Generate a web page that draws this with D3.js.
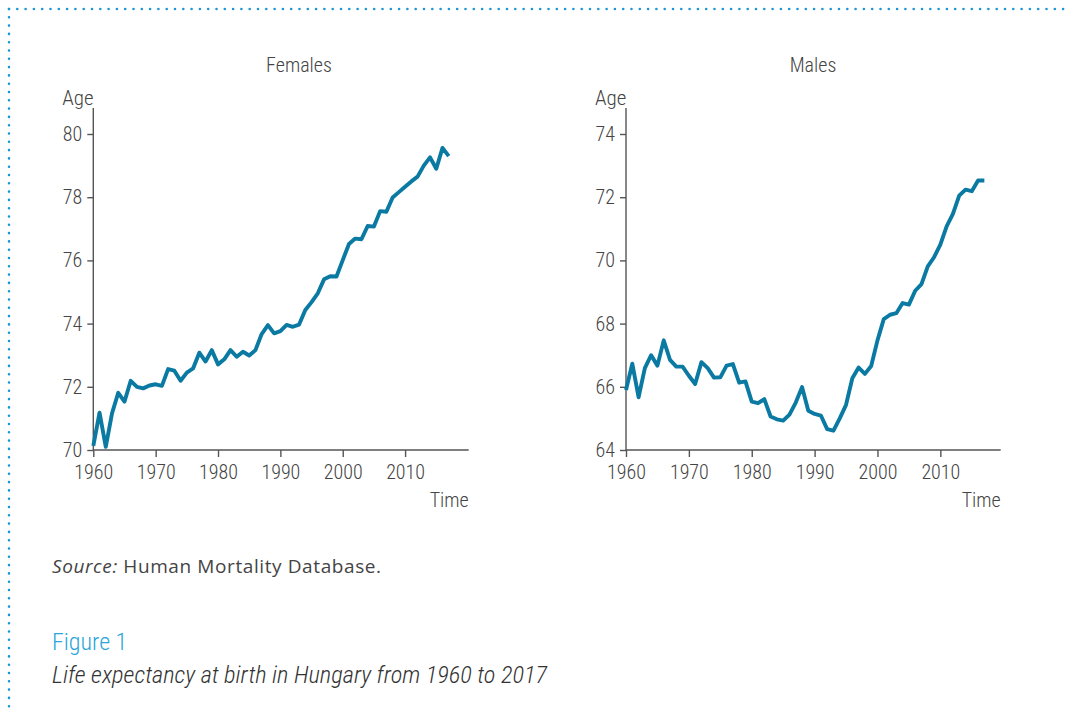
<!DOCTYPE html>
<html>
<head>
<meta charset="utf-8">
<script src="https://cdn.jsdelivr.net/npm/d3@7"></script>
<style>
	body { margin: 0; background: #fff; }
	svg text { fill: #444; }
	.narrow { font-family: "Roboto Condensed", "Liberation Sans Narrow", Roboto, sans-serif; font-weight: 300; }
	.axis path, .axis line { stroke: #555; stroke-width: 1.4; }
</style>
</head>
<body>
<div id="chart"></div>
<script>
// Life expectancy at birth, Hungary
var years = d3.range(1960, 2018);
var females = [
	70.13, 71.18, 70.10, 71.16, 71.81, 71.53, 72.19, 72.00, 71.95, 72.04,
	72.08, 72.03, 72.56, 72.51, 72.19, 72.45, 72.58, 73.08, 72.80, 73.16,
	72.71, 72.87, 73.16, 72.95, 73.11, 72.99, 73.16, 73.67, 73.95, 73.69,
	73.76, 73.96, 73.90, 73.97, 74.43, 74.68, 74.96, 75.40, 75.50, 75.49,
	76.01, 76.52, 76.69, 76.67, 77.09, 77.07, 77.56, 77.54, 77.99, 78.16,
	78.33, 78.50, 78.65, 79.00, 79.26, 78.90, 79.56, 79.30
];
var males = [
	65.90, 66.73, 65.67, 66.59, 67.00, 66.67, 67.47, 66.85, 66.64, 66.64,
	66.35, 66.09, 66.78, 66.59, 66.29, 66.30, 66.67, 66.72, 66.13, 66.17,
	65.53, 65.48, 65.61, 65.06, 64.97, 64.93, 65.12, 65.50, 65.99, 65.24,
	65.14, 65.09, 64.66, 64.61, 65.00, 65.43, 66.27, 66.61, 66.41, 66.66,
	67.47, 68.14, 68.28, 68.33, 68.65, 68.60, 69.04, 69.25, 69.81, 70.10,
	70.50, 71.08, 71.47, 72.05, 72.24, 72.19, 72.53, 72.53
];
var xTicks = [1960, 1970, 1980, 1990, 2000, 2010];
var femaleTicks = [70, 72, 74, 76, 78, 80];
var maleTicks = [64, 66, 68, 70, 72, 74];

var W = 1065, H = 713;
var svg = d3.select("#chart").append("svg")
	.attr("width", W)
	.attr("height", H);

// dotted frame
svg.append("line")
	.attr("x1", 9).attr("y1", 9).attr("x2", W).attr("y2", 9)
	.attr("stroke", "#1a96d4").attr("stroke-width", 2.6)
	.attr("stroke-linecap", "round").attr("stroke-dasharray", "0 8.3");
svg.append("line")
	.attr("x1", 9).attr("y1", 9).attr("x2", 9).attr("y2", H)
	.attr("stroke", "#1a96d4").attr("stroke-width", 2.6)
	.attr("stroke-linecap", "round").attr("stroke-dasharray", "0 8.3");

function panel(opts) {
	var x = d3.scaleLinear().domain([1960, opts.xEnd]).range([opts.left, opts.right]);
	var y = d3.scaleLinear().domain([opts.ticks[0], opts.ticks[0] + 10]).range([450, 134]);
	var yTop = 108;
	var g = svg.append("g");

	// title
	g.append("text").attr("class", "narrow")
		.attr("x", opts.titleX).attr("y", 72)
		.attr("text-anchor", "middle")
		.attr("font-size", 20)
		.text(opts.title);

	// y axis
	var ya = g.append("g").attr("class", "axis narrow")
		.attr("transform", `translate(${opts.left}, 0)`)
		.call(d3.axisLeft(y).tickValues(opts.ticks).tickSize(6).tickPadding(5));
	ya.select(".domain").attr("d", `M-0,${yTop}V450`);
	ya.selectAll("text").attr("font-size", 20).attr("fill", "#444");

	// x axis
	var xa = g.append("g").attr("class", "axis narrow")
		.attr("transform", "translate(0, 450)")
		.call(d3.axisBottom(x).tickValues(xTicks).tickFormat(d3.format("d")).tickSize(7).tickPadding(8));
	xa.select(".domain").attr("d", `M${opts.left},0H${opts.right}`);
	xa.selectAll("text").attr("font-size", 20).attr("fill", "#444");

	g.append("text").attr("class", "narrow")
		.attr("x", opts.left - 31).attr("y", 105)
		.attr("font-size", 21)
		.text("Age");
	g.append("text").attr("class", "narrow")
		.attr("x", opts.right).attr("y", 507)
		.attr("text-anchor", "end")
		.attr("font-size", 20)
		.text("Time");

	var line = d3.line()
		.x((d, i) => x(years[i]))
		.y(d => y(d));
	g.append("path")
		.datum(opts.values)
		.attr("fill", "none")
		.attr("stroke", "#0b7aa3")
		.attr("stroke-width", 3.9)
		.attr("stroke-linejoin", "round")
		.attr("d", line);
}

panel({ title: "Females", titleX: 299, left: 93.3, right: 468.7, xEnd: 2020.2, ticks: femaleTicks, values: females });
panel({ title: "Males", titleX: 813, left: 626, right: 1000.7, xEnd: 2019.6, ticks: maleTicks, values: males });

// source and caption
var src = svg.append("text")
	.attr("x", 52).attr("y", 573)
	.attr("font-family", "'Open Sans', sans-serif")
	.attr("font-size", 19)
	.attr("letter-spacing", 0.6)
	.attr("fill", "#3a3a3a");
src.append("tspan").attr("font-style", "italic").text("Source:");
src.append("tspan").text(" Human Mortality Database.");

svg.append("text").attr("class", "narrow")
	.attr("x", 52).attr("y", 650)
	.attr("font-size", 24)
	.style("fill", "#2aa5da")
	.text("Figure 1");
svg.append("text").attr("class", "narrow")
	.attr("x", 52).attr("y", 683)
	.attr("font-size", 24.4)
	.attr("font-style", "italic")
	.style("fill", "#333")
	.text("Life expectancy at birth in Hungary from 1960 to 2017");
</script>
</body>
</html>
